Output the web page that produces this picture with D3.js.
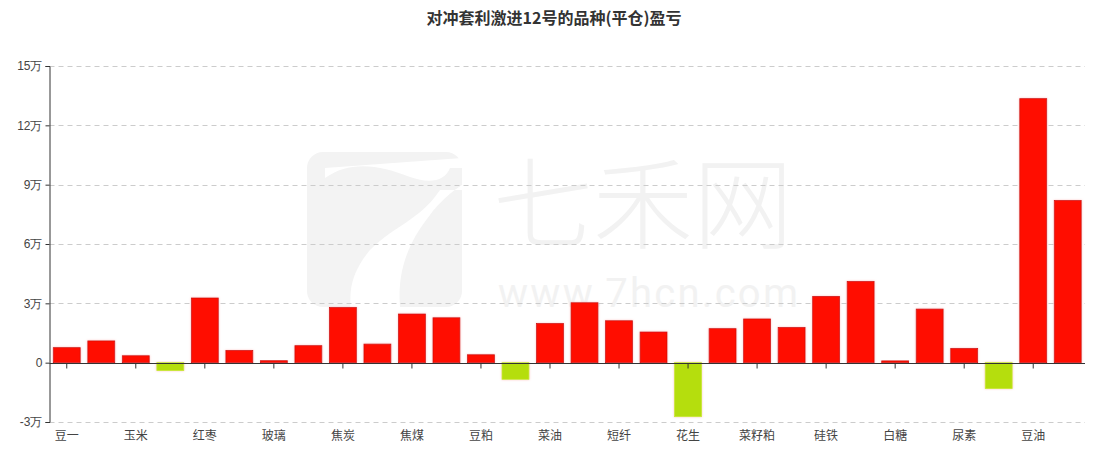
<!DOCTYPE html>
<html><head><meta charset="utf-8">
<script src="https://cdn.jsdelivr.net/npm/d3@7"></script>
<style>html,body{margin:0;padding:0;background:#fff;}svg{display:block;font-family:"Noto Sans CJK SC","Noto Sans",sans-serif;}</style>
</head><body>
<svg id="chart" width="1097" height="456"></svg>
<script>
const titleText = "对冲套利激进12号的品种(平仓)盈亏";
const categories = ["豆一","豆二","玉米","淀粉","红枣","苹果","玻璃","纯碱","焦炭","铁矿石","焦煤","甲醇","豆粕","棕榈油","菜油","棉花","短纤","PTA","花生","乙二醇","菜籽粕","锰硅","硅铁","螺纹钢","白糖","塑料","尿素","聚丙烯","豆油","沥青"];
const values = [7600,11000,3500,-4000,32700,6200,1000,8600,27900,9400,24600,22700,4000,-8400,19800,30300,21200,15500,-27300,17200,22100,17800,33500,41100,900,27100,7200,-13100,133500,82000];
const yTicks = [-30000,0,30000,60000,90000,120000,150000];
const watermarkName = "七禾网";
const watermarkUrl = "www.7hcn.com";

const svg = d3.select("#chart");
const W = 1097, H = 456;
const m = {left: 49.5, right: 12, top: 66, bottom: 34};
const x = d3.scaleBand().domain(categories).range([m.left, W - m.right]).paddingInner(0.22).paddingOuter(0.11);
const y = d3.scaleLinear().domain([-30000, 150000]).range([H - m.bottom, m.top]);

// watermark
const wm = svg.append("g").attr("class","watermark");
wm.append("rect").attr("x",307).attr("y",152).attr("width",155).attr("height",155).attr("rx",16).attr("fill","#f3f3f3");
wm.append("path").attr("fill","#fff")
  .attr("d","M 325 178 C 350 160 380 165 410 177 C 430 184 445 181 450 168 L 462 168 L 462 158 L 325 168 Z");
wm.append("path").attr("fill","#fff")
  .attr("d","M 440 190 C 420 220 395 225 370 250 C 345 280 352 300 350 307 L 400 307 C 398 280 402 250 430 215 C 445 195 462 185 462 185 L 462 190 Z");
wm.append("text").attr("x",643).attr("y",241).attr("text-anchor","middle").attr("font-size",100)
  .attr("fill","#f2f2f2").attr("font-family","Noto Sans CJK SC").attr("font-weight",300).text(watermarkName);
wm.append("text").attr("x",648).attr("y",307).attr("text-anchor","middle").attr("font-size",40)
  .attr("textLength",300).attr("lengthAdjust","spacing")
  .attr("fill","#f2f2f2").attr("font-family","Roboto, sans-serif").text(watermarkUrl);

// grid
svg.append("g").selectAll("line").data(yTicks).join("line")
  .attr("x1", m.left).attr("x2", W - m.right)
  .attr("y1", d => Math.round(y(d)) + 0.5).attr("y2", d => Math.round(y(d)) + 0.5)
  .attr("stroke", "#ccc").attr("stroke-dasharray", "5,4").attr("stroke-width", 1);

// y axis
const yAxis = d3.axisLeft(y).tickValues(yTicks).tickSize(4).tickPadding(3)
  .tickFormat(d => d === 0 ? "0" : (d / 10000) + "万");
const gy = svg.append("g").attr("transform", `translate(${m.left},0)`).call(yAxis);
gy.selectAll("text").attr("font-size", 12).attr("fill", "#444");
gy.select(".domain").attr("stroke", "#333");
gy.selectAll(".tick line").attr("stroke", "#333");

// bars
const defs = svg.append("defs");
const f = defs.append("filter").attr("id","glow").attr("x","-20%").attr("y","-20%").attr("width","140%").attr("height","140%");
f.append("feGaussianBlur").attr("in","SourceAlpha").attr("stdDeviation",1.2).attr("result","b");
f.append("feFlood").attr("flood-color","#ff9999").attr("flood-opacity",0.6);
f.append("feComposite").attr("in2","b").attr("operator","in").attr("result","s");
const fm = f.append("feMerge"); fm.append("feMergeNode").attr("in","s"); fm.append("feMergeNode").attr("in","SourceGraphic");

svg.append("g").selectAll("rect").data(values).join("rect")
  .attr("x", (d, i) => x(categories[i]))
  .attr("width", x.bandwidth())
  .attr("y", d => y(Math.max(0, d)))
  .attr("height", d => Math.abs(y(d) - y(0)))
  .attr("fill", d => d >= 0 ? "#ff1100" : "#b5de0c")
  .attr("stroke", d => d >= 0 ? "#d01010" : "#c8e830")
  .attr("stroke-width", 0.8)
  .attr("filter", "url(#glow)");

// x axis at zero
const labelled = categories.filter((c, i) => i % 2 === 0);
const xAxis = d3.axisBottom(x).tickValues(labelled).tickSize(5).tickFormat("");
const gx = svg.append("g").attr("transform", `translate(0,${Math.round(y(0)) + 0.5})`).call(xAxis);
gx.select(".domain").attr("stroke", "#333").attr("d", `M${m.left},0H${W - m.right}`);
gx.selectAll(".tick line").attr("stroke", "#333");

svg.append("g").selectAll("text").data(labelled).join("text")
  .attr("x", d => x(d) + x.bandwidth() / 2)
  .attr("y", H - m.bottom + 18)
  .attr("text-anchor", "middle").attr("font-size", 12).attr("fill", "#444").text(d => d);

// title
svg.append("text").attr("x", 554).attr("y", 24).attr("text-anchor", "middle")
  .attr("font-size", 16).attr("font-weight", "bold").attr("fill", "#333").text(titleText);
</script>
</body></html>
